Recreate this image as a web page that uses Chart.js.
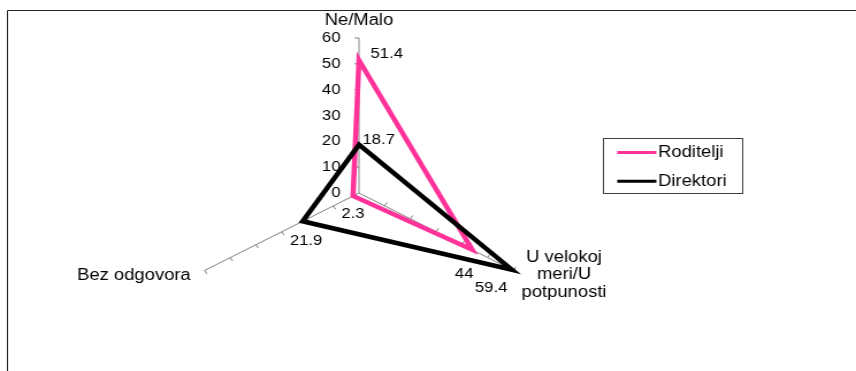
<!DOCTYPE html>
<html>
<head>
<meta charset="utf-8">
<script src="https://cdn.jsdelivr.net/npm/chart.js@4.4.0/dist/chart.umd.min.js"></script>
<style>
  html, body { margin: 0; padding: 0; background: #fff; }
  canvas { display: block; }
</style>
</head>
<body>
<!-- drawn at 744 wide and shown 856 wide, so the whole chart is a little stretched sideways -->
<canvas id="radar" width="744" height="371" style="width:856px;height:371px"></canvas>
<script>
const categories = ['Ne/Malo', ['U velokoj', 'meri/U', 'potpunosti'], 'Bez odgovora'];
const seriesNames = ['Roditelji', 'Direktori'];
const roditelji = [51.4, 44, 2.3];
const direktori = [18.7, 59.4, 21.9];
const tickLabels = [0, 10, 20, 30, 40, 50, 60];

const FONT = '"Liberation Sans", Arial, sans-serif';
const colors = ['#ff3399', '#000000'];

// where each value label sits next to its point: [dx, dy, align]
const labelOffsets = [
  [[10, -6, 'left'], [-7, 24, 'center'], [0, 18, 'center']],
  [[3, -5, 'left'], [-18, 18, 'center'], [3, 20, 'center']]
];

const extras = {
  id: 'extras',
  beforeDatasetsDraw(chart) {
    const ctx = chart.ctx;
    const r = chart.scales.r;
    ctx.save();

    // outer frame (only left and top edges fall inside the canvas)
    ctx.strokeStyle = '#262626';
    ctx.lineWidth = 1;
    ctx.beginPath();
    ctx.moveTo(6.5, chart.height + 2);
    ctx.lineTo(6.5, 10.5);
    ctx.lineTo(chart.width + 2, 10.5);
    ctx.stroke();

    // small tick marks along every axis
    ctx.strokeStyle = '#808080';
    categories.forEach((c, i) => {
      const end = r.getPointPosition(i, r.drawingArea);
      const len = Math.hypot(end.x - r.xCenter, end.y - r.yCenter);
      const ux = (end.x - r.xCenter) / len;
      const uy = (end.y - r.yCenter) / len;
      tickLabels.forEach(v => {
        if (v === 0) return;
        const p = r.getPointPosition(i, r.getDistanceFromCenterForValue(v));
        ctx.beginPath();
        ctx.moveTo(p.x, p.y);
        ctx.lineTo(p.x + uy * 4, p.y - ux * 4);
        ctx.stroke();
      });
    });

    // value labels on the first axis
    ctx.fillStyle = '#000';
    ctx.font = '14.5px ' + FONT;
    ctx.textAlign = 'right';
    ctx.textBaseline = 'middle';
    tickLabels.forEach(v => {
      const p = r.getPointPosition(0, r.getDistanceFromCenterForValue(v));
      ctx.fillText(String(v), r.xCenter - 16, p.y);
    });

    // category names
    ctx.font = '16px ' + FONT;
    const e0 = r.getPointPosition(0, r.drawingArea);
    ctx.textAlign = 'center';
    ctx.fillText(categories[0], e0.x, e0.y - 17);
    const e1 = r.getPointPosition(1, r.drawingArea);
    categories[1].forEach((line, k) => {
      ctx.fillText(line, e1.x + 44, e1.y + 4.5 + (k - 1) * 17.5);
    });
    const e2 = r.getPointPosition(2, r.drawingArea);
    ctx.textAlign = 'right';
    ctx.fillText(categories[2], e2.x - 12, e2.y + 5.5);
    ctx.restore();
  },
  afterDatasetsDraw(chart) {
    const ctx = chart.ctx;
    ctx.save();

    // data labels
    ctx.fillStyle = '#000';
    ctx.font = '14.5px ' + FONT;
    ctx.textBaseline = 'middle';
    chart.data.datasets.forEach((ds, d) => {
      const meta = chart.getDatasetMeta(d);
      meta.data.forEach((pt, i) => {
        const [dx, dy, align] = labelOffsets[d][i];
        ctx.textAlign = align;
        ctx.fillText(String(ds.data[i]), pt.x + dx, pt.y + dy);
      });
    });

    // legend box
    ctx.strokeStyle = '#404040';
    ctx.lineWidth = 1;
    ctx.strokeRect(524.5, 138.5, 121, 55);
    ctx.font = '16px ' + FONT;
    ctx.textAlign = 'left';
    chart.data.datasets.forEach((ds, d) => {
      const y = 152.5 + d * 28.7;
      ctx.strokeStyle = ds.borderColor;
      ctx.lineWidth = 3;
      ctx.beginPath();
      ctx.moveTo(536.5, y);
      ctx.lineTo(570.5, y);
      ctx.stroke();
      ctx.fillText(ds.label, 572, y + 0.5);
    });
    ctx.restore();
  }
};

new Chart(document.getElementById('radar'), {
  type: 'radar',
  data: {
    labels: categories,
    datasets: [
      { label: seriesNames[0], data: roditelji, borderColor: colors[0], borderWidth: 4.5, order: 1 },
      { label: seriesNames[1], data: direktori, borderColor: colors[1], borderWidth: 4.5, order: 0 }
    ]
  },
  options: {
    responsive: false,
    animation: false,
    layout: { padding: { top: 38, bottom: 23, left: 157, right: 277 } },
    elements: {
      line: { fill: false, tension: 0, borderJoinStyle: 'miter' },
      point: { radius: 0, hoverRadius: 0 }
    },
    scales: {
      r: {
        min: 0,
        max: 60,
        startAngle: 0,
        grid: { display: false },
        angleLines: { color: '#808080', lineWidth: 1 },
        ticks: { display: false, stepSize: 10 },
        pointLabels: { display: false }
      }
    },
    plugins: {
      legend: { display: false },
      tooltip: { enabled: false }
    }
  },
  plugins: [extras]
});
</script>
</body>
</html>
